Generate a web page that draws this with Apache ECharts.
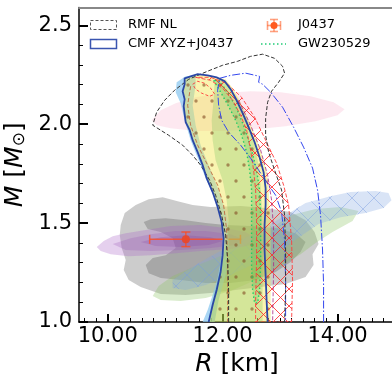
<!DOCTYPE html>
<html><head><meta charset="utf-8">
<script src="https://cdn.jsdelivr.net/npm/echarts@6/dist/echarts.min.js"></script>
<style>html,body{margin:0;padding:0;background:#fff}#c{width:392px;height:375px}</style>
</head><body><div id="c"></div>
<script>
// ---------- axis ticks ----------
const xTickValues = [10, 12, 14];
const xMinorTicks = [9.6,9.8,10.2,10.4,10.6,10.8,11.0,11.2,11.4,11.6,11.8,12.2,12.4,12.6,12.8,13.0,13.2,13.4,13.6,13.8,14.2,14.4,14.6,14.8];
const yTickValues = [1.0, 1.5, 2.0, 2.5];
const yMinorTicks = [1.1,1.2,1.3,1.4,1.6,1.7,1.8,1.9,2.1,2.2,2.3,2.4];

// ---------- regions [R km, M Msun] ----------
const pinkEllipse = [[10.765,2.020],[10.922,2.071],[11.183,2.106],[11.530,2.136],[11.965,2.157],[12.487,2.167],[13.009,2.162],[13.530,2.141],[13.930,2.111],[14.122,2.076],[14.000,2.045],[13.617,2.015],[13.096,1.990],[12.574,1.975],[12.052,1.965],[11.530,1.965],[11.096,1.980],[10.852,1.995]];
const grayOuter = [[10.226,1.490],[10.296,1.551],[10.487,1.591],[10.713,1.621],[10.957,1.631],[11.217,1.611],[11.478,1.591],[11.791,1.581],[12.313,1.586],[12.748,1.576],[13.183,1.556],[13.443,1.515],[13.600,1.455],[13.670,1.394],[13.565,1.343],[13.583,1.288],[13.443,1.227],[13.096,1.192],[12.661,1.177],[12.226,1.162],[11.791,1.146],[11.357,1.136],[10.922,1.141],[10.574,1.177],[10.365,1.212],[10.278,1.263],[10.313,1.313],[10.243,1.374],[10.209,1.439]];
const grayInner = [[10.626,1.505],[10.748,1.520],[11.009,1.525],[11.357,1.515],[11.704,1.500],[12.052,1.490],[12.487,1.485],[12.922,1.475],[13.270,1.449],[13.443,1.404],[13.357,1.354],[13.183,1.303],[12.922,1.253],[12.574,1.212],[12.139,1.197],[11.704,1.197],[11.270,1.212],[10.922,1.222],[10.713,1.247],[10.661,1.288],[10.783,1.323],[11.009,1.338],[11.183,1.374],[11.130,1.424],[10.922,1.455],[10.696,1.470]];
const purpleOuter = [[9.809,1.379],[9.930,1.409],[10.087,1.434],[10.313,1.449],[10.661,1.465],[11.096,1.485],[11.617,1.490],[12.052,1.475],[12.400,1.455],[12.574,1.424],[12.487,1.389],[12.139,1.369],[11.617,1.359],[11.183,1.348],[10.748,1.338],[10.365,1.333],[10.052,1.343],[9.878,1.359]];
const purpleMid = [[10.087,1.394],[10.400,1.424],[10.748,1.444],[11.183,1.460],[11.704,1.460],[12.139,1.444],[12.348,1.419],[12.226,1.389],[11.791,1.374],[11.270,1.364],[10.748,1.359],[10.313,1.364]];
const purpleCore = [[10.574,1.404],[10.922,1.429],[11.357,1.439],[11.791,1.429],[12.000,1.409],[11.757,1.389],[11.270,1.379],[10.835,1.384]];
const greenRegion = [[10.783,1.131],[10.887,1.182],[11.130,1.232],[11.530,1.283],[11.878,1.323],[12.313,1.374],[12.748,1.455],[13.183,1.540],[13.617,1.571],[14.052,1.581],[14.365,1.561],[14.261,1.510],[13.913,1.455],[13.617,1.399],[13.357,1.343],[13.009,1.283],[12.574,1.212],[12.139,1.157],[11.704,1.121],[11.270,1.106],[10.922,1.111]];
const blueRegion = [[11.130,1.212],[11.443,1.273],[11.791,1.333],[12.226,1.399],[12.661,1.465],[13.096,1.540],[13.443,1.601],[13.878,1.636],[14.226,1.657],[14.661,1.662],[14.887,1.652],[14.939,1.616],[14.800,1.576],[14.487,1.551],[14.052,1.530],[13.670,1.495],[13.357,1.434],[13.009,1.364],[12.574,1.298],[12.139,1.237],[11.704,1.187],[11.357,1.162],[11.130,1.172]];
// J0437: R, M, R low, R high, M low, M high
const j0437 = [[11.36, 1.418, 10.73, 12.31, 1.381, 1.455]];
const lightBlueBand = [[11.652,1.000],[11.739,1.061],[11.826,1.136],[11.913,1.222],[11.965,1.303],[12.000,1.389],[12.000,1.465],[11.948,1.556],[11.843,1.641],[11.704,1.727],[11.583,1.818],[11.443,1.919],[11.339,2.020],[11.270,2.106],[11.183,2.162],[11.200,2.212],[11.357,2.242],[11.530,2.247],[11.530,2.197],[11.478,2.096],[11.530,1.995],[11.617,1.894],[11.791,1.768],[11.965,1.641],[12.087,1.515],[12.104,1.389],[12.052,1.237],[11.930,1.111],[11.861,1.000]];
const yellowBand = [[11.757,1.000],[11.826,1.086],[11.896,1.162],[11.965,1.253],[12.000,1.338],[12.017,1.424],[11.983,1.505],[11.913,1.581],[11.826,1.657],[11.722,1.727],[11.652,1.793],[11.565,1.859],[11.478,1.919],[11.426,1.970],[11.357,2.010],[11.339,2.051],[11.322,2.091],[11.339,2.126],[11.304,2.167],[11.339,2.202],[11.339,2.232],[11.443,2.242],[11.565,2.253],[11.739,2.247],[11.896,2.237],[12.052,2.227],[12.174,2.182],[12.296,2.121],[12.400,2.056],[12.504,1.985],[12.609,1.909],[12.696,1.833],[12.765,1.758],[12.800,1.677],[12.817,1.591],[12.835,1.490],[12.835,1.364],[12.835,1.237],[12.835,1.111],[12.835,1.000]];
const greenBand = [[11.861,2.222],[11.843,2.121],[11.809,2.020],[11.826,1.919],[11.878,1.818],[12.000,1.717],[12.070,1.616],[12.104,1.515],[12.070,1.414],[12.000,1.313],[11.913,1.212],[11.826,1.111],[11.757,1.000],[12.696,1.000],[12.696,1.212],[12.696,1.414],[12.678,1.616],[12.643,1.768],[12.557,1.894],[12.435,2.020],[12.278,2.121],[12.104,2.197],[11.965,2.227]];
const gwBand = [[11.843,2.222],[11.965,2.162],[12.104,2.091],[12.226,2.020],[12.330,1.944],[12.417,1.859],[12.470,1.768],[12.504,1.667],[12.504,1.540],[12.504,1.414],[12.504,1.288],[12.522,1.162],[12.557,1.096],[12.609,1.096],[12.643,1.162],[12.661,1.288],[12.661,1.414],[12.661,1.540],[12.643,1.667],[12.591,1.768],[12.504,1.869],[12.383,1.980],[12.243,2.081],[12.087,2.162],[11.930,2.222]];
const redBand = [[11.530,2.237],[11.791,2.222],[12.000,2.182],[12.174,2.121],[12.313,2.045],[12.417,1.970],[12.487,1.869],[12.539,1.768],[12.574,1.667],[12.591,1.515],[12.591,1.313],[12.574,1.111],[12.574,1.000],[13.200,1.000],[13.217,1.212],[13.200,1.414],[13.148,1.591],[13.061,1.692],[12.939,1.803],[12.748,1.919],[12.557,2.035],[12.330,2.136],[12.070,2.207],[11.791,2.237]];
const redLoop = [[11.478,2.202],[11.565,2.217],[11.687,2.207],[11.791,2.182],[11.861,2.152],[11.774,2.141],[11.635,2.157],[11.530,2.177]];
const brownLine = [[11.443,2.192],[11.391,2.096],[11.443,1.995],[11.565,1.894],[11.739,1.793],[11.913,1.692],[12.017,1.591],[12.070,1.465],[12.087,1.313],[12.087,1.000]];
const magentaLine = [[12.278,2.121],[12.487,1.995],[12.661,1.869],[12.783,1.742],[12.852,1.616],[12.887,1.465],[12.887,1.263],[12.870,1.000]];
const blueDashDot = [[13.757,1.000],[13.757,1.187],[13.739,1.364],[13.704,1.540],[13.652,1.667],[13.565,1.778],[13.409,1.884],[13.235,1.985],[13.043,2.086],[12.835,2.162],[12.696,2.202],[12.626,2.212],[12.643,2.242],[12.400,2.258],[12.139,2.247],[11.948,2.232],[11.913,2.172],[11.930,2.096],[11.983,2.020],[12.104,1.960],[12.313,1.894],[12.487,1.828],[12.626,1.768],[12.765,1.707],[12.922,1.641],[13.026,1.556],[13.078,1.414],[13.096,1.212],[13.096,1.000]];
const rmfNL = [[12.104,1.000],[12.104,1.162],[12.087,1.313],[12.052,1.439],[11.983,1.540],[11.878,1.641],[11.774,1.717],[11.617,1.793],[11.478,1.843],[11.304,1.894],[11.061,1.944],[10.783,1.995],[10.852,2.061],[10.991,2.121],[11.165,2.172],[11.409,2.227],[11.739,2.268],[12.000,2.298],[12.261,2.318],[12.487,2.343],[12.696,2.354],[12.904,2.333],[13.043,2.293],[13.078,2.258],[12.974,2.212],[12.852,2.167],[12.783,2.111],[12.748,2.030],[12.748,1.944],[12.800,1.859],[12.904,1.768],[13.026,1.667],[13.078,1.540],[13.096,1.364],[13.096,1.162],[13.078,1.000]];
const cmfContour = [[11.757,1.000],[11.826,1.086],[11.896,1.162],[11.965,1.253],[12.000,1.338],[12.017,1.424],[11.983,1.505],[11.913,1.581],[11.826,1.657],[11.722,1.727],[11.652,1.793],[11.565,1.859],[11.478,1.919],[11.426,1.970],[11.357,2.010],[11.339,2.051],[11.322,2.091],[11.339,2.126],[11.304,2.167],[11.339,2.202],[11.339,2.232],[11.443,2.242],[11.565,2.253],[11.739,2.247],[11.896,2.237],[12.035,2.217],[12.139,2.177],[12.243,2.121],[12.348,2.056],[12.452,1.985],[12.557,1.909],[12.643,1.833],[12.713,1.758],[12.748,1.677],[12.748,1.591],[12.730,1.490],[12.730,1.364],[12.748,1.237],[12.765,1.111],[12.783,1.000]];

// ---------- patterns ----------
function makePattern(w, h, draw) {
  const c = document.createElement('canvas'); c.width = w; c.height = h;
  draw(c.getContext('2d')); return { image: c, repeat: 'repeat' };
}
const dotPattern = makePattern(16, 32, ctx => {
  ctx.fillStyle = 'rgba(130,75,35,0.6)';
  [[4,5],[12,21]].forEach(p => { ctx.beginPath(); ctx.arc(p[0], p[1], 1.7, 0, Math.PI*2); ctx.fill(); });
});
function crossPattern(s, color, lw) {
  return makePattern(s, s, ctx => {
    ctx.strokeStyle = color; ctx.lineWidth = lw;
    ctx.beginPath(); ctx.moveTo(0,0); ctx.lineTo(s,s); ctx.moveTo(0,s); ctx.lineTo(s,0); ctx.stroke();
  });
}
const redX = crossPattern(17, 'rgba(255,40,40,0.9)', 0.9);
const blueX = crossPattern(22, 'rgba(120,155,225,0.45)', 1);

function poly(name, pts, style, closed) {
  return {
    type: 'custom', name: name, coordinateSystem: 'cartesian2d', clip: true, silent: true,
    data: pts, encode: { x: 0, y: 1 },
    renderItem: function (params, api) {
      if (params.dataIndex !== 0) return null;
      const p = pts.map(d => api.coord(d));
      return { type: closed === false ? 'polyline' : 'polygon', shape: { points: p }, style: style };
    }
  };
}

const errColor = 'rgba(255,75,30,0.78)';
const series = [
  poly('GW170817', pinkEllipse, { fill: 'rgba(248,185,208,0.33)' }),
  poly('gray outer', grayOuter, { fill: 'rgba(0,0,0,0.2)' }),
  poly('gray inner', grayInner, { fill: 'rgba(0,0,0,0.18)' }),
  poly('green region', greenRegion, { fill: 'rgba(140,195,100,0.32)' }),
  poly('blue region', blueRegion, { fill: 'rgba(130,165,225,0.3)' }),
  poly('blue hatch', blueRegion, { fill: blueX }),
  poly('purple 1', purpleOuter, { fill: 'rgba(170,100,200,0.3)' }),
  poly('purple 2', purpleMid, { fill: 'rgba(150,80,180,0.25)' }),
  poly('purple 3', purpleCore, { fill: 'rgba(130,60,160,0.22)' }),
  {
    type: 'custom', name: 'J0437', coordinateSystem: 'cartesian2d', silent: true, data: j0437,
    encode: { x: 0, y: 1 },
    renderItem: function (params, api) {
      const c = api.coord([api.value(0), api.value(1)]);
      const l = api.coord([api.value(2), api.value(1)]);
      const r = api.coord([api.value(3), api.value(1)]);
      const b = api.coord([api.value(0), api.value(4)]);
      const t = api.coord([api.value(0), api.value(5)]);
      const st = { stroke: errColor, lineWidth: 1.5 };
      const cap = 4.5;
      return { type: 'group', children: [
        { type: 'line', shape: { x1: l[0], y1: l[1], x2: r[0], y2: r[1] }, style: st },
        { type: 'line', shape: { x1: l[0], y1: l[1]-cap, x2: l[0], y2: l[1]+cap }, style: st },
        { type: 'line', shape: { x1: r[0], y1: r[1]-cap, x2: r[0], y2: r[1]+cap }, style: st },
        { type: 'line', shape: { x1: b[0], y1: b[1], x2: t[0], y2: t[1] }, style: st },
        { type: 'line', shape: { x1: b[0]-cap, y1: b[1], x2: b[0]+cap, y2: b[1] }, style: st },
        { type: 'line', shape: { x1: t[0]-cap, y1: t[1], x2: t[0]+cap, y2: t[1] }, style: st },
        { type: 'circle', shape: { cx: c[0], cy: c[1], r: 4 }, style: { fill: 'rgba(235,70,40,0.9)' } }
      ]};
    }
  },
  poly('light blue band', lightBlueBand, { fill: 'rgba(140,200,240,0.75)' }),
  poly('yellow band', yellowBand, { fill: 'rgba(242,230,80,0.45)' }),
  poly('green band', greenBand, { fill: 'rgba(110,190,90,0.26)' }),
  poly('dots', yellowBand, { fill: dotPattern }),
  poly('GW230529', gwBand, { fill: 'rgba(60,190,70,0.2)', stroke: '#22cc66', lineWidth: 1.4, lineDash: [1.5, 2.5] }),
  poly('red band', redBand, { fill: redX, stroke: 'rgba(255,60,60,0.9)', lineWidth: 1, lineDash: [4, 2] }),
  poly('red loop', redLoop, { fill: 'none', stroke: 'rgba(255,60,60,0.9)', lineWidth: 1, lineDash: [3, 2] }),
  poly('brown line', brownLine, { fill: null, stroke: 'rgba(190,90,50,0.8)', lineWidth: 1, lineDash: [4, 2] }, false),
  poly('magenta line', magentaLine, { fill: null, stroke: 'rgba(170,40,130,0.8)', lineWidth: 1, lineDash: [4, 2] }, false),
  poly('blue dash-dot', blueDashDot, { fill: null, stroke: '#3347ee', lineWidth: 1, lineDash: [8, 2, 1.5, 2] }, false),
  poly('RMF NL', rmfNL, { fill: null, stroke: '#333', lineWidth: 1, lineDash: [4, 2] }, false),
  poly('CMF XYZ+J0437', cmfContour, { fill: null, stroke: '#2a47a6', lineWidth: 1.8 }, false)
];

const font = 'DejaVu Sans';
const chart = echarts.init(document.getElementById('c'), null, { renderer: 'canvas' });
chart.setOption({
  animation: false,
  backgroundColor: '#fff',
  grid: { left: 79, right: -3, top: 7.5, bottom: 53, containLabel: false, outerBoundsMode: 'none' },
  xAxis: [
    { type: 'value', min: 9.5, max: 15, position: 'bottom',
      name: '{i|R} [km]', nameLocation: 'middle', nameGap: 27,
      nameTextStyle: { fontSize: 25, fontFamily: font, color: '#000', rich: { i: { fontSize: 25, fontStyle: 'italic', fontFamily: font, color: '#000' } } },
      axisLine: { show: true, onZero: false, lineStyle: { color: '#000', width: 1.5 } },
      axisTick: { show: true, inside: true, length: 8, customValues: xTickValues, lineStyle: { color: '#000', width: 2 } },
      axisLabel: { show: true, customValues: xTickValues, formatter: v => v.toFixed(2), fontSize: 21, fontFamily: font, color: '#000', margin: 4 },
      splitLine: { show: false } },
    { type: 'value', min: 9.5, max: 15, position: 'bottom',
      axisLine: { show: false }, axisLabel: { show: false }, splitLine: { show: false },
      axisTick: { show: true, inside: true, length: 4, customValues: xMinorTicks, lineStyle: { color: '#000', width: 1 } } },
    { type: 'value', min: 9.5, max: 15, position: 'top',
      axisLine: { show: true, onZero: false, lineStyle: { color: '#888', width: 2 } },
      axisTick: { show: false }, axisLabel: { show: false }, splitLine: { show: false } }
  ],
  yAxis: [
    { type: 'value', min: 1.0, max: 2.59, position: 'left',
      name: '{i|M} [{i|M}{s|⊙}]', nameLocation: 'middle', nameGap: 48,
      nameTextStyle: { fontSize: 25, fontFamily: font, color: '#000', rich: {
        i: { fontSize: 25, fontStyle: 'italic', fontFamily: font, color: '#000' },
        s: { fontSize: 17, fontFamily: font, color: '#000', verticalAlign: 'bottom' } } },
      axisLine: { show: true, onZero: false, lineStyle: { color: '#000', width: 1.5 } },
      axisTick: { show: true, inside: true, length: 9, customValues: yTickValues, lineStyle: { color: '#000', width: 2 } },
      axisLabel: { show: true, customValues: yTickValues, formatter: v => v.toFixed(1), fontSize: 21, fontFamily: font, color: '#000', margin: 7 },
      splitLine: { show: false } },
    { type: 'value', min: 1.0, max: 2.59, position: 'left',
      axisLine: { show: false }, axisLabel: { show: false }, splitLine: { show: false },
      axisTick: { show: true, inside: true, length: 4, customValues: yMinorTicks, lineStyle: { color: '#000', width: 1 } } }
  ],
  series: series,
  graphic: [
    { type: 'rect', shape: { x: 90.5, y: 20.5, width: 26, height: 9 }, style: { fill: 'none', stroke: '#555', lineWidth: 1, lineDash: [3, 2] }, z: 100 },
    { type: 'text', x: 128, y: 25, style: { text: 'RMF NL', fontSize: 13, fontFamily: font, fill: '#000', verticalAlign: 'middle' }, z: 100 },
    { type: 'rect', shape: { x: 90.5, y: 39.5, width: 26, height: 9 }, style: { fill: 'none', stroke: '#3a55b0', lineWidth: 1.5 }, z: 100 },
    { type: 'text', x: 128, y: 44, style: { text: 'CMF XYZ+J0437', fontSize: 13, fontFamily: font, fill: '#000', verticalAlign: 'middle' }, z: 100 },
    { type: 'group', z: 100, children: [
      { type: 'line', shape: { x1: 267, y1: 25.5, x2: 281, y2: 25.5 }, style: { stroke: 'rgba(255,110,60,0.65)', lineWidth: 1.6 } },
      { type: 'line', shape: { x1: 267.5, y1: 21, x2: 267.5, y2: 30 }, style: { stroke: 'rgba(255,110,60,0.65)', lineWidth: 1.6 } },
      { type: 'line', shape: { x1: 280.5, y1: 21, x2: 280.5, y2: 30 }, style: { stroke: 'rgba(255,110,60,0.65)', lineWidth: 1.6 } },
      { type: 'line', shape: { x1: 274, y1: 19.5, x2: 274, y2: 31.5 }, style: { stroke: 'rgba(255,110,60,0.65)', lineWidth: 1.6 } },
      { type: 'line', shape: { x1: 270, y1: 19.5, x2: 278, y2: 19.5 }, style: { stroke: 'rgba(255,110,60,0.65)', lineWidth: 1.6 } },
      { type: 'line', shape: { x1: 270, y1: 31.5, x2: 278, y2: 31.5 }, style: { stroke: 'rgba(255,110,60,0.65)', lineWidth: 1.6 } },
      { type: 'circle', shape: { cx: 274, cy: 25.5, r: 3.5 }, style: { fill: '#ff5a1f' } }
    ] },
    { type: 'text', x: 298, y: 25, style: { text: 'J0437', fontSize: 13, fontFamily: font, fill: '#000', verticalAlign: 'middle' }, z: 100 },
    { type: 'line', shape: { x1: 261, y1: 44, x2: 286, y2: 44 }, style: { stroke: '#22cc77', lineWidth: 1.5, lineDash: [1.5, 2.5] }, z: 100 },
    { type: 'text', x: 298, y: 44, style: { text: 'GW230529', fontSize: 13, fontFamily: font, fill: '#000', verticalAlign: 'middle' }, z: 100 }
  ]
});
</script></body></html>
